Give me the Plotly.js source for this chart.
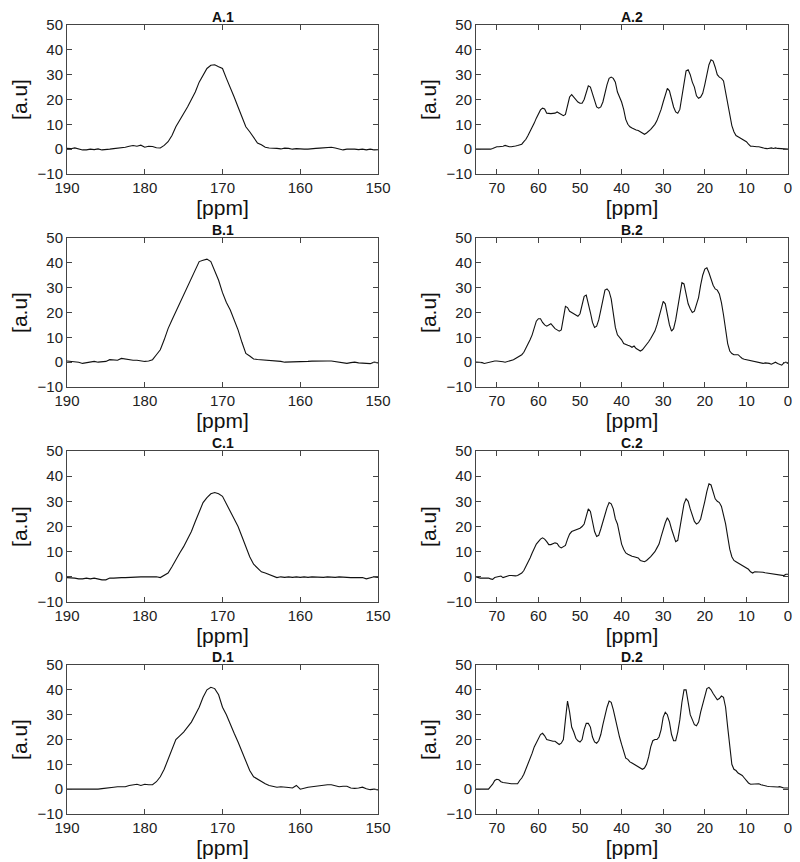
<!DOCTYPE html>
<html>
<head>
<meta charset="utf-8">
<script src="https://cdn.plot.ly/plotly-3.0.1.min.js"></script>
<style>
html,body{margin:0;padding:0;background:#fff;}
#chart{width:800px;height:862px;}
</style>
</head>
<body>
<div id="chart"></div>
<script>
// ---------- x grids (ppm) ----------
const ppmCarbonyl = [
 190,189.5,189,188.5,188,187.5,187,186.5,186,185.5,
 185,184.5,184,183.5,183,182.5,182,181.5,181,180.5,
 180,179.5,179,178.5,178,177.5,177,176.5,176,175.5,
 175,174.5,174,173.5,173,172.5,172,171.5,171,170.5,
 170,169.5,169,168.5,168,167.5,167,166.5,166,165.5,
 165,164.5,164,163.5,163,162.5,162,161.5,161,160.5,
 160,159.5,159,158.5,158,157.5,157,156.5,156,155.5,
 155,154.5,154,153.5,153,152.5,152,151.5,151,150.5,
 150];
const ppmAliphatic = [
 75,74.5,74,73.5,73,72.5,72,71.5,71,70.5,
 70,69.5,69,68.5,68,67.5,67,66.5,66,65.5,
 65,64.5,64,63.5,63,62.5,62,61.5,61,60.5,
 60,59.5,59,58.5,58,57.5,57,56.5,56,55.5,
 55,54.5,54,53.5,53,52.5,52,51.5,51,50.5,
 50,49.5,49,48.5,48,47.5,47,46.5,46,45.5,
 45,44.5,44,43.5,43,42.5,42,41.5,41,40.5,
 40,39.5,39,38.5,38,37.5,37,36.5,36,35.5,
 35,34.5,34,33.5,33,32.5,32,31.5,31,30.5,
 30,29.5,29,28.5,28,27.5,27,26.5,26,25.5,
 25,24.5,24,23.5,23,22.5,22,21.5,21,20.5,
 20,19.5,19,18.5,18,17.5,17,16.5,16,15.5,
 15,14.5,14,13.5,13,12.5,12,11.5,11,10.5,
 10,9.5,9,8.5,8,7.5,7,6.5,6,5.5,
 5,4.5,4,3.5,3,2.5,2,1.5,1,0.5,
 0];

// ---------- intensities [a.u] ----------
const A1 = [
 0.3,0.2,0.5,0,-0.3,-0.3,0,-0.2,0.1,-0.3,
 -0.3,0,0.2,0.3,0.5,0.8,1.2,1.5,1.2,1.6,
 0.8,1.2,1.1,0.6,0.5,1.5,3,5.5,9,11.5,
 14,17,20,23,27,30,32.5,33.8,34,33.2,
 32.5,28.5,25,21,17,13,9,7,4.5,2.5,
 1.8,0.8,0.5,0.5,0.3,0.1,0.4,0.3,0,0.2,
 0,0,0,0,0.3,0.4,0.5,0.4,0.8,0.5,
 0.2,-0.3,0,0.1,0,-0.2,0,-0.3,0,-0.3,
 -0.2];
const B1 = [
 0.5,0.3,0.3,0,-0.5,-0.3,0,0.3,0,0,
 0.3,1,0.8,0.8,1.5,1.2,1,0.8,0.8,0.5,
 0.3,0.5,1,3,5,9,13.5,17,20.4,23.5,
 27,30.5,33.8,37,40.5,41,41.5,40.5,37,33,
 28,24,21,17,13,8,3.5,2.5,1.3,1.1,
 1,0.9,0.8,0.7,0.5,0.3,0,0,0,0,
 0,0.1,0.3,0.4,0.5,0.5,0.5,0.5,0.5,0.2,
 0,-0.3,-0.5,-0.2,0,-0.3,-0.5,-0.5,-0.6,0,
 -0.3];
const C1 = [
 -0.3,-0.3,-0.5,-0.8,-0.8,-0.5,-0.8,-0.5,-1,-1.2,
 -1.2,-0.5,-0.5,-0.3,-0.3,-0.3,-0.2,0,0.2,0,
 0,0,0,0,-0.3,0.5,1.5,4,7,9.5,
 12,15,18,22,26,29.5,31.5,33,33.5,33,
 32,29,26,23,20,16,12,8,5,3.5,
 2,1.5,1,0.5,-0.3,0,-0.2,0,-0.2,0,
 -0.2,0,-0.2,0,-0.1,0,-0.2,0,-0.1,-0.2,
 0,-0.2,-0.2,-0.3,-0.2,-0.3,-0.3,-0.8,-0.3,0,
 -0.2];
const D1 = [
 0,0,0,0,0,-0.3,-0.2,0,0,0.2,
 0.3,0.5,0.8,1,1,1,1.5,1.8,2,1.5,
 2,1.8,1.8,3,5,8,12,16,20,21.5,
 23,25,27,30,33,37,40,41,40.5,38,
 33,30,26,22.5,19,15,11,7.5,5,4,
 3,2.2,1.5,1,0.8,1,1,0.7,0.5,1.5,
 0,0.5,0.8,1,1.2,1.5,1.8,1.8,1.8,1.3,
 1,1.2,1.2,0.5,0.3,0.5,0.8,0.2,-0.2,0,
 -0.3];

const A2 = [
 0,0,0,0,0,-0.2,-0.3,0,0.3,0.8,
 1,1,1,1.2,1.5,1.2,1,1,1,1.3,
 1.5,1.6,2,3,4,5.5,7,8.8,10.5,12.5,
 14.5,15.8,16.5,16.2,14.5,14.3,14.3,14.4,14.5,15,
 14.5,14,13.5,14,18,21,22,21,20,19,
 18.5,18.5,20,23,25.5,25,22,19,17,16.5,
 17,19,23,26,28.5,29,28.5,27,23,21,
 19,16,12,10,9,8.5,8,7.7,7.5,7,
 6.5,6,6.5,7.2,8,9,10,11.5,13.5,16,
 19,22,24.5,23.5,20,17,15,14.5,16,21,
 27,31.5,32,30,27,25,21.5,20.5,21,22.5,
 26,30,34,36,35.5,33,30,29,28.5,27.5,
 23,18,13,9.5,7,5.5,5,4.5,4,3.5,
 3,2,1.2,1.2,1,1,1,0.7,0.5,0.3,
 0.2,0.5,0.5,0.3,0.5,0.3,0.2,0,0,0,
 0];
const B2 = [
 0,0,0,-0.2,-0.5,-0.3,0,0.3,0.5,0.5,
 0.5,0.5,0.5,0.2,0,0.2,0.5,0.8,1,1.5,
 2,2.5,3,4,5.5,7,9,11,13.5,16.5,
 17.5,17.5,16,15,14.5,15,15.5,14.5,13.5,13,
 12.5,13,18,22.5,22,20.5,20,19.5,19,18.5,
 19.5,23,26.5,27,24,20,16,14,14.5,17,
 21,25,29,29.5,28.5,25.5,20,14,11,10,
 9,7.5,7,6.8,6.5,6,6.5,5.5,5,4.5,
 5,6,7,8.2,9.5,11,12.5,15,18,22,
 24.5,23.5,19.5,15,12.5,13.5,17,22,28,32,
 31.5,27.5,23.5,21.5,20,20.5,23,26,31,35,
 37.5,38,36,33,31,29.5,29,27.5,24,19,
 13,7.5,4.5,3.5,3,3,3,2.2,1.5,1.2,
 1,0.8,0.5,0.4,0.3,0.2,0,-0.3,-0.5,-0.3,
 -0.3,-0.5,-0.8,-0.3,0,-0.5,-1,-1.2,-0.3,0,
 -0.5];
const C2 = [
 0,-0.3,-0.5,-0.5,-0.5,-0.5,-0.5,-0.8,-1,-0.3,
 0,0.3,0.3,-0.3,0,0.3,0.5,0.5,0.3,0.4,
 0.5,1,1.5,2.5,4,5.5,7.5,9.5,11.5,13,
 14,15,15.5,15,14,12.8,12.8,13.2,13.5,13.3,
 12,11.5,12,12.5,15,17,18,18.3,18.5,19,
 19.3,20,21,24,27,26,21.5,18,16,16.5,
 19,22,25,27.5,29.5,29,27,23,21,17,
 13,11,9.5,9,8.5,8.2,8,7.8,7.5,6.5,
 6.2,6,6.5,7.2,8,9,10,11.5,13,16,
 19,21.5,23.5,22,19,16,14,14.5,19,24,
 29,31,30,27,24,22,21,21.5,23,26,
 30,34,37,36.5,34,31,30,29.5,28,25,
 21,16,11,8,6.5,6,5.5,5,4.5,4,
 3.5,3,2,1.5,2,2,2,1.9,1.8,1.6,
 1.5,1.3,1.2,1.1,1,0.9,0.8,0.6,0.5,1,
 1];
const D2 = [
 0,0,0,-0.3,0,0,0,1,2,3.5,
 4,3.8,3,2.7,2.5,2.3,2.2,2.2,2.2,2.2,
 2.2,3.5,4.5,6,8,10,12,14.5,17,18.5,
 20,22,22.5,21.5,20,19.7,19.5,19.3,19.3,18.5,
 18,18.5,20,28,35.5,31,25,23,20.5,19.5,
 19,20,24,26.5,26.5,25,21,19,18.5,19.5,
 22,26,30,33,35.5,35,32,28,24,21,
 18,15,12.5,12,11,10.5,10,9.5,9,8.5,
 8,8.5,10,13,17,19.5,20,20,21,24,
 29,31,30,27,22,19.5,19.5,23,28,35,
 40,40,35,30,28,26,25.5,27,31,34,
 38,40.5,41,40,38.5,37,36,36.5,37.5,37,
 33,25,16,10,8,7.5,6.5,6,5.5,4.5,
 3.5,2.5,2,2,2,2.1,2.2,1.8,1.5,1.3,
 1.2,1.1,1,0.9,0.8,0.9,1,0.7,0.5,0.5,
 0.5];

const panelTitles = ['A.1','A.2','B.1','B.2','C.1','C.2','D.1','D.2'];
const panelSeries = [A1,A2,B1,B2,C1,C2,D1,D2];
const xTitle = '[ppm]';
const yTitle = '[a.u]';
const yTickVals = [-10,0,10,20,30,40,50];
const xTickLeft = [190,180,170,160,150];
const xTickRight = [70,60,50,40,30,20,10,0];

// ---------- layout geometry (pixels) ----------
const W = 800, H = 862;
const colPx = [[67,378],[476,788]];
const rowPx = [[25,174],[238,387],[451,602],[665,814]];

const FONT = 'Liberation Sans, Arial, Helvetica, sans-serif';
const traces = [];
const layout = {
  width: W, height: H,
  margin: {l:0,r:0,t:0,b:0},
  paper_bgcolor: '#fff', plot_bgcolor: '#fff',
  showlegend: false,
  font: {family: FONT, color: '#222'},
  annotations: []
};

for (let i = 0; i < 8; i++) {
  const r = Math.floor(i/2), c = i % 2;
  const n = i + 1;
  const xa = 'xaxis' + (n === 1 ? '' : n);
  const ya = 'yaxis' + (n === 1 ? '' : n);
  const xr = 'x' + (n === 1 ? '' : n);
  const yr = 'y' + (n === 1 ? '' : n);
  traces.push({
    type: 'scatter', mode: 'lines',
    x: c === 0 ? ppmCarbonyl : ppmAliphatic,
    y: panelSeries[i],
    xaxis: xr, yaxis: yr,
    line: {color: '#111', width: 1.1},
    hoverinfo: 'skip'
  });
  const dx = [colPx[c][0]/W, colPx[c][1]/W];
  const dy = [1 - rowPx[r][1]/H, 1 - rowPx[r][0]/H];
  layout[xa] = {
    domain: dx, anchor: yr,
    range: c === 0 ? [190,150] : [75,0],
    tickvals: c === 0 ? xTickLeft : xTickRight,
    ticks: 'inside', ticklen: 5, tickwidth: 1, tickcolor: '#444',
    showline: true, linecolor: '#444', linewidth: 1, mirror: 'ticks',
    showgrid: false, zeroline: false,
    tickfont: {size: 15, family: FONT, color: '#222'},
    title: {text: xTitle, font: {size: 21, family: FONT, color: '#111'}, standoff: 0}
  };
  layout[ya] = {
    domain: dy, anchor: xr,
    range: [-10,50],
    tickvals: yTickVals,
    ticks: 'inside', ticklen: 5, tickwidth: 1, tickcolor: '#444',
    showline: true, linecolor: '#444', linewidth: 1, mirror: 'ticks',
    showgrid: false, zeroline: false,
    tickfont: {size: 15, family: FONT, color: '#222'},
    title: {text: yTitle, font: {size: 21, family: FONT, color: '#111'}, standoff: 4}
  };
  layout.annotations.push({
    xref: 'paper', yref: 'paper',
    x: (dx[0]+dx[1])/2, y: dy[1],
    xanchor: 'center', yanchor: 'bottom', yshift: -2,
    text: '<b>' + panelTitles[i] + '</b>', showarrow: false,
    font: {size: 14, family: FONT, color: '#111'}
  });
}

Plotly.newPlot('chart', traces, layout, {displayModeBar: false, staticPlot: true});
</script>
</body>
</html>
